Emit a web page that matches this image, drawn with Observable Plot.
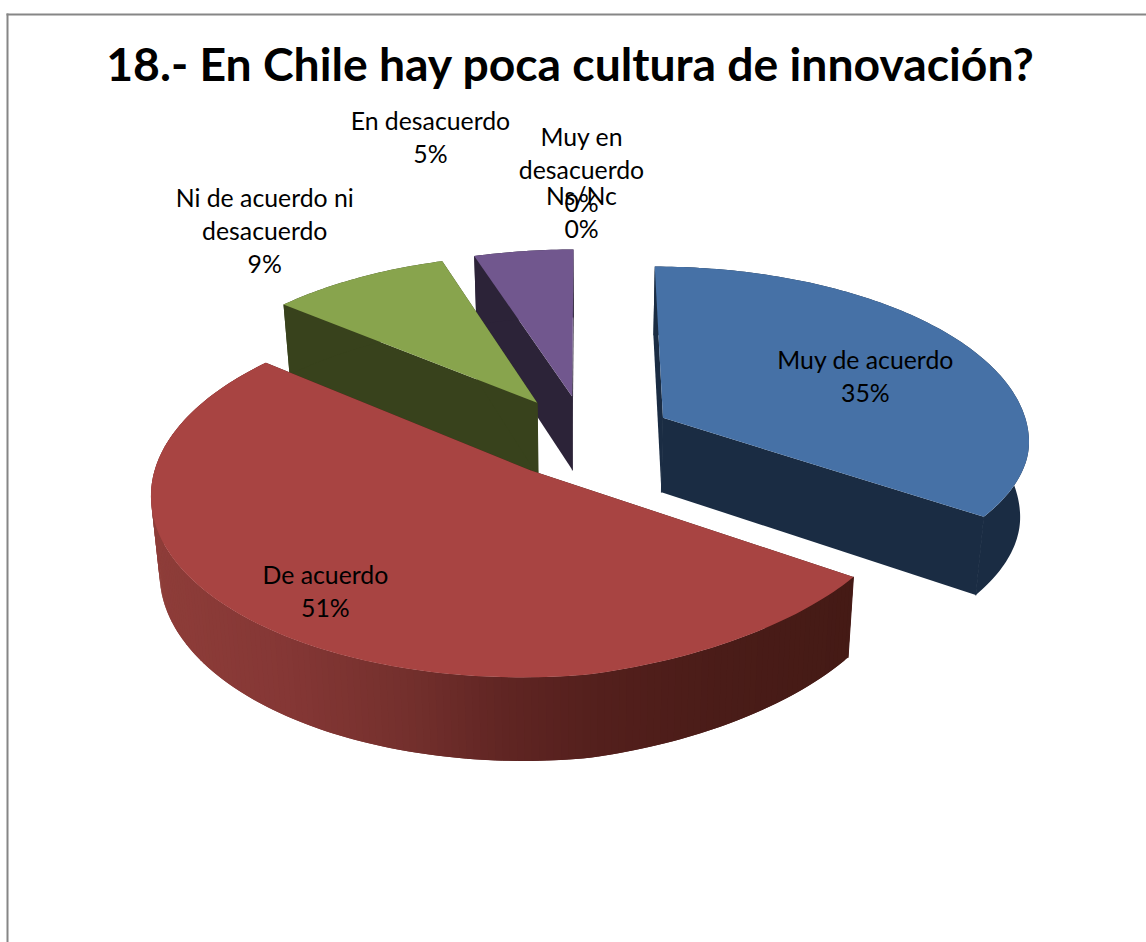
<!DOCTYPE html>
<html><head><meta charset="utf-8">
<style>html,body{margin:0;padding:0;background:#fff;overflow:hidden}svg{display:block}</style>
<script src="https://cdn.jsdelivr.net/npm/d3@7"></script>
<script src="https://cdn.jsdelivr.net/npm/@observablehq/plot@0.6"></script>
</head><body><div id="chart"></div>
<script>
// ---- data ----
const titleText = "18.- En Chile hay poca cultura de innovación?";
const categories = ["Muy de acuerdo", "De acuerdo", "Ni de acuerdo ni\ndesacuerdo", "En desacuerdo", "Muy en\ndesacuerdo", "Ns/Nc"];
const shares = [35, 51, 9, 5, 0, 0];
const percentLabels = ["35%", "51%", "9%", "5%", "0%", "0%"];

// ---- styling ----
const topColors = ["#4671a6", "#a84442", "#88a44d", "#71578e"];
const sideColors = ["#1a2c43", "#461a16", "#38421c", "#2c2338"];
const redRim = d3.scaleLinear().domain([150, 280, 400, 500, 600, 720, 860])
  .range(["#8e3d39", "#853735", "#74302d", "#602523", "#531f1c", "#4a1c18", "#441a15"]);
// label offset from each slice's rim midpoint, in pixels
const labelShift = [[-100, 29.5], [56, -39.5], [-93, -48.6], [-93, -115], [-4, -81], [-4, -38]];

// ---- 3D pie geometry, derived from the shares ----
const view = {cx: 585, cy: 436, rx: 367, ry: 173.6, persp: 0.12, yaw: 16, depth: 75, foot: 0.98, explode: 0.24};
const project = (u, v, bottom) => {
  const s = 1 / (1 + view.persp * v);
  const f = bottom ? view.foot : 1;
  return {
    x: view.cx + view.rx * u * s * f,
    y: view.cy - view.ry * v * s - view.yaw * Math.max(0, u) * Math.max(0, -v) + (bottom ? view.depth * Math.pow(s, 0.7) : 0)
  };
};
const total = d3.sum(shares);
let acc = 0;
const slices = shares.map((share, i) => {
  const a0 = acc / total * 2 * Math.PI; acc += share;
  const a1 = acc / total * 2 * Math.PI;
  const mid = (a0 + a1) / 2;
  const ou = view.explode * Math.sin(mid), ov = view.explode * Math.cos(mid);
  return {i, share, a0, a1, mid, ou, ov, apexY: project(ou, ov, false).y};
});
const rimAt = (s, a) => [s.ou + Math.sin(a), s.ov + Math.cos(a)];

const rows = [];
let faceId = 0;
const addFace = (pts, color, edge) => { const face = faceId++; pts.forEach(p => rows.push({x: p.x, y: p.y, face, color, edge})); };
const paintOrder = slices.filter(s => s.share > 0).sort((a, b) => a.apexY - b.apexY);
for (const s of paintOrder) {
  const side = sideColors[s.i];
  const n = Math.max(2, Math.ceil((s.a1 - s.a0) / (Math.PI / 180)));
  const angles = d3.range(n + 1).map(k => s.a0 + (s.a1 - s.a0) * k / n);
  const rimTop = a => { const [u, v] = rimAt(s, a); return project(u, v, false); };
  const rimBot = a => { const [u, v] = rimAt(s, a); return project(u, v, true); };
  const apexTop = project(s.ou, s.ov, false), apexBot = project(s.ou, s.ov, true);
  for (const a of [s.a0, s.a1]) addFace([apexTop, rimTop(a), rimBot(a), apexBot], side, "none");
  if (s.i === 1) {
    // shaded rim: each strip runs under the next one so no seam shows
    for (let k = 0; k < n; k++) {
      const a = rimTop(angles[k]), b = rimTop(angles[Math.min(n, k + 2)]);
      addFace([a, b, rimBot(angles[Math.min(n, k + 2)]), rimBot(angles[k])], redRim(rimTop(angles[k + 1]).x), "none");
    }
  } else {
    addFace([...angles.map(rimTop), ...angles.slice().reverse().map(rimBot)], side, "none");
  }
  // seal the hairlines where side faces meet
  addFace([apexTop, apexBot], "none", side);
  for (const a of [s.a0, s.a1]) if (Math.cos(a) < 0.5) addFace([rimTop(a), rimBot(a)], "none", side);
  addFace([apexTop, ...angles.map(rimTop)], topColors[s.i], "none");
}

const labels = slices.map((s, i) => {
  const [u, v] = rimAt(s, s.mid);
  const p = project(u, v, false);
  return {x: p.x + labelShift[i][0], y: p.y + labelShift[i][1], text: categories[i] + "\n" + percentLabels[i]};
});

const fontFamily = "Lato, Carlito, sans-serif";
const chart = Plot.plot({
  width: 1146, height: 942,
  marginLeft: 7, marginTop: 14, marginRight: 0, marginBottom: 0,
  x: {domain: [7, 1146], axis: null},
  y: {domain: [14, 942], range: [14, 942], axis: null},
  color: {type: "identity"},
  style: {background: "#fff", fontFamily},
  marks: [
    Plot.frame({anchor: "top", stroke: "#868686", strokeWidth: 2}),
    Plot.frame({anchor: "left", stroke: "#868686", strokeWidth: 2}),
    Plot.line(rows, {x: "x", y: "y", z: "face", fill: "color", stroke: "edge", strokeWidth: 1}),
    Plot.text(labels, {x: "x", y: "y", text: "text", fontSize: 24.8, lineHeight: 33 / 24.8, fill: "#000", textAnchor: "middle", lineAnchor: "middle", fontFamily}),
    Plot.text([titleText], {frameAnchor: "top-left", dx: 562.5, dy: 52, textAnchor: "middle", lineAnchor: "middle", fontSize: 46.3, fontWeight: 700, fill: "#000", fontFamily})
  ]
});
document.getElementById("chart").appendChild(chart);
</script>
</body></html>
